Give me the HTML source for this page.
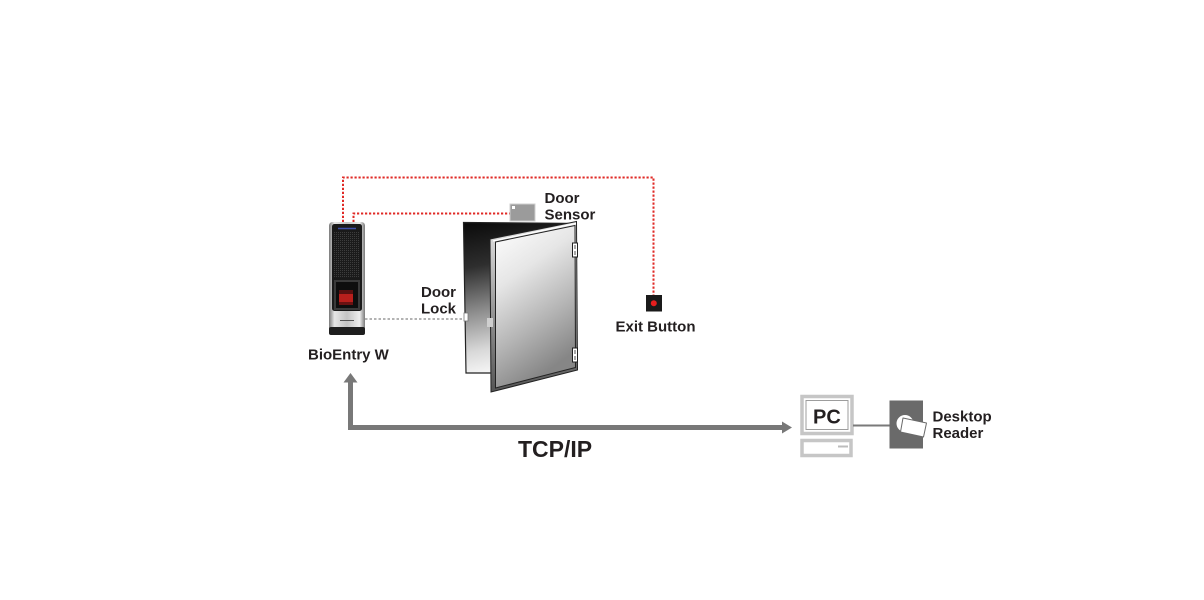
<!DOCTYPE html>
<html>
<head>
<meta charset="utf-8">
<style>
  html,body{margin:0;padding:0;background:#fff;}
  body{width:1204px;height:600px;overflow:hidden;}
  svg{display:block;}
  text{font-family:"Liberation Sans", Arial, sans-serif;font-weight:bold;fill:#231f20;}
</style>
</head>
<body>
<svg width="1204" height="600" viewBox="0 0 1204 600" xmlns="http://www.w3.org/2000/svg">
  <defs>
    <linearGradient id="back" x1="0" y1="0" x2="0.15" y2="1">
      <stop offset="0" stop-color="#0a0a0a"/>
      <stop offset="0.3" stop-color="#2e2e2e"/>
      <stop offset="0.6" stop-color="#8e8e8e"/>
      <stop offset="0.85" stop-color="#d8d8d8"/>
      <stop offset="1" stop-color="#f4f4f4"/>
    </linearGradient>
    <linearGradient id="face" x1="0" y1="0" x2="0.35" y2="1">
      <stop offset="0" stop-color="#ffffff"/>
      <stop offset="0.35" stop-color="#e6e6e6"/>
      <stop offset="0.7" stop-color="#b4b4b4"/>
      <stop offset="1" stop-color="#868686"/>
    </linearGradient>
    <linearGradient id="edge" x1="0" y1="0" x2="0" y2="1">
      <stop offset="0" stop-color="#e8e8e8"/>
      <stop offset="0.5" stop-color="#9a9a9a"/>
      <stop offset="1" stop-color="#555"/>
    </linearGradient>
    <linearGradient id="silver" x1="0" y1="0" x2="1" y2="0">
      <stop offset="0" stop-color="#7a7a7a"/>
      <stop offset="0.15" stop-color="#e6e6e6"/>
      <stop offset="0.5" stop-color="#c4c4c4"/>
      <stop offset="0.85" stop-color="#efefef"/>
      <stop offset="1" stop-color="#7a7a7a"/>
    </linearGradient>
    <pattern id="dots" width="2" height="2" patternUnits="userSpaceOnUse">
      <rect width="2" height="2" fill="#1b1b1b"/>
      <rect width="1" height="1" fill="#3d3d3d"/>
    </pattern>
  </defs>

  <!-- red dotted wires -->
  <g fill="none" stroke="#e02a26" stroke-width="2" stroke-dasharray="2.2,1.8">
    <polyline points="343,222 343,177.5 653.5,177.5 653.5,295"/>
    <polyline points="353.5,222 353.5,213.5 510,213.5"/>
  </g>

  <!-- gray dashed line to door lock -->
  <line x1="365" y1="319" x2="464" y2="319" stroke="#9a9a9a" stroke-width="1.6" stroke-dasharray="2.5,2"/>

  <!-- BioEntry W device -->
  <rect x="329" y="222" width="36" height="113" rx="3.5" fill="url(#silver)"/>
  <rect x="332" y="224" width="30" height="87" rx="2.5" fill="#1a1a1a"/>
  <rect x="334" y="232" width="26" height="46" fill="url(#dots)"/>
  <line x1="338" y1="228.5" x2="356" y2="228.5" stroke="#3e4fa8" stroke-width="1.4"/>
  <rect x="334" y="280" width="26" height="30" fill="#3a3a3a"/>
  <rect x="336" y="282" width="22" height="26" fill="#0e0e0e"/>
  <rect x="339" y="290" width="14" height="4" fill="#5a1010"/>
  <rect x="339" y="294" width="14" height="8" fill="#b81f1c"/>
  <rect x="339" y="302" width="14" height="3" fill="#6a1212"/>
  <line x1="340" y1="320.5" x2="354" y2="320.5" stroke="#555" stroke-width="1"/>
  <rect x="329" y="327" width="36" height="8" rx="2" fill="#1e1e1e"/>

  <!-- Door back panel -->
  <polygon points="463.5,222.5 576,223.5 576,368 491,373 466,373" fill="url(#back)" stroke="#222" stroke-width="1.2"/>
  <!-- Door lock on frame -->
  <rect x="464" y="313" width="4" height="8" fill="#fff" stroke="#777" stroke-width="0.8"/>

  <!-- Door leaf -->
  <polygon points="490,239 576.5,221.5 577.5,370 491,392" fill="url(#edge)" stroke="#222" stroke-width="1"/>
  <polygon points="495.5,242 575,225.5 575.5,367.5 495.5,388" fill="url(#face)" stroke="#222" stroke-width="1"/>
  <polyline points="493,241 576,223.5" stroke="#fff" stroke-width="1.2" fill="none"/>
  <!-- lock on door -->
  <rect x="487" y="318" width="6" height="9" fill="#cfcfcf"/>

  <!-- hinges -->
  <g fill="#fff" stroke="#222" stroke-width="1">
    <rect x="572.5" y="243" width="5" height="14"/>
    <rect x="572.5" y="348" width="5" height="14"/>
  </g>
  <g stroke="#222" stroke-width="0.8">
    <line x1="575" y1="245" x2="575" y2="249"/>
    <line x1="575" y1="251" x2="575" y2="255"/>
    <line x1="575" y1="350" x2="575" y2="354"/>
    <line x1="575" y1="356" x2="575" y2="360"/>
  </g>

  <!-- Door sensor -->
  <rect x="510" y="204" width="25" height="17" fill="#9b9b9b" stroke="#cfcfcf" stroke-width="1"/>
  <rect x="512" y="206" width="3" height="3" fill="#fff"/>

  <!-- Exit button -->
  <rect x="646" y="295" width="16" height="16.5" fill="#1a1a1a"/>
  <circle cx="653.8" cy="303.3" r="3" fill="#e61e1e"/>

  <!-- Labels -->
  <text x="544.5" y="203" font-size="15">Door</text>
  <text x="544.5" y="219.5" font-size="15">Sensor</text>
  <text x="421" y="297" font-size="15">Door</text>
  <text x="421" y="313.5" font-size="15">Lock</text>
  <text x="615.5" y="331.5" font-size="15">Exit Button</text>
  <text x="308" y="359.5" font-size="15">BioEntry W</text>

  <!-- TCP/IP arrows -->
  <g fill="#787878">
    <rect x="348" y="381" width="5" height="49"/>
    <polygon points="343.5,382.5 350.5,373 357.5,382.5"/>
    <rect x="348" y="425" width="435" height="5"/>
    <polygon points="782,421.5 792,427.5 782,433.5"/>
  </g>
  <text x="518" y="457" font-size="23">TCP/IP</text>

  <!-- PC -->
  <rect x="802" y="396.5" width="50" height="37" fill="#fff" stroke="#c6c6c6" stroke-width="3.5"/>
  <rect x="806" y="400.5" width="42" height="29" fill="#fff" stroke="#9d9d9d" stroke-width="1"/>
  <text x="813" y="423.5" font-size="20">PC</text>
  <rect x="802" y="440.5" width="49" height="15" fill="#fff" stroke="#c6c6c6" stroke-width="3.5"/>
  <line x1="838" y1="446.5" x2="848" y2="446.5" stroke="#bcbcbc" stroke-width="2"/>

  <!-- link to reader -->
  <line x1="853" y1="425.5" x2="890" y2="425.5" stroke="#7a7a7a" stroke-width="2"/>

  <!-- Desktop reader -->
  <rect x="889.5" y="400.5" width="33.5" height="48" fill="#6a6a6a"/>
  <circle cx="905" cy="423.5" r="8.5" fill="#fff"/>
  <polygon points="903,418 926.5,423 923.5,437 900.5,432" fill="#fff" stroke="#6a6a6a" stroke-width="1" stroke-linejoin="round"/>
  <text x="932.5" y="421.5" font-size="15">Desktop</text>
  <text x="932.5" y="438" font-size="15">Reader</text>
</svg>
</body>
</html>
